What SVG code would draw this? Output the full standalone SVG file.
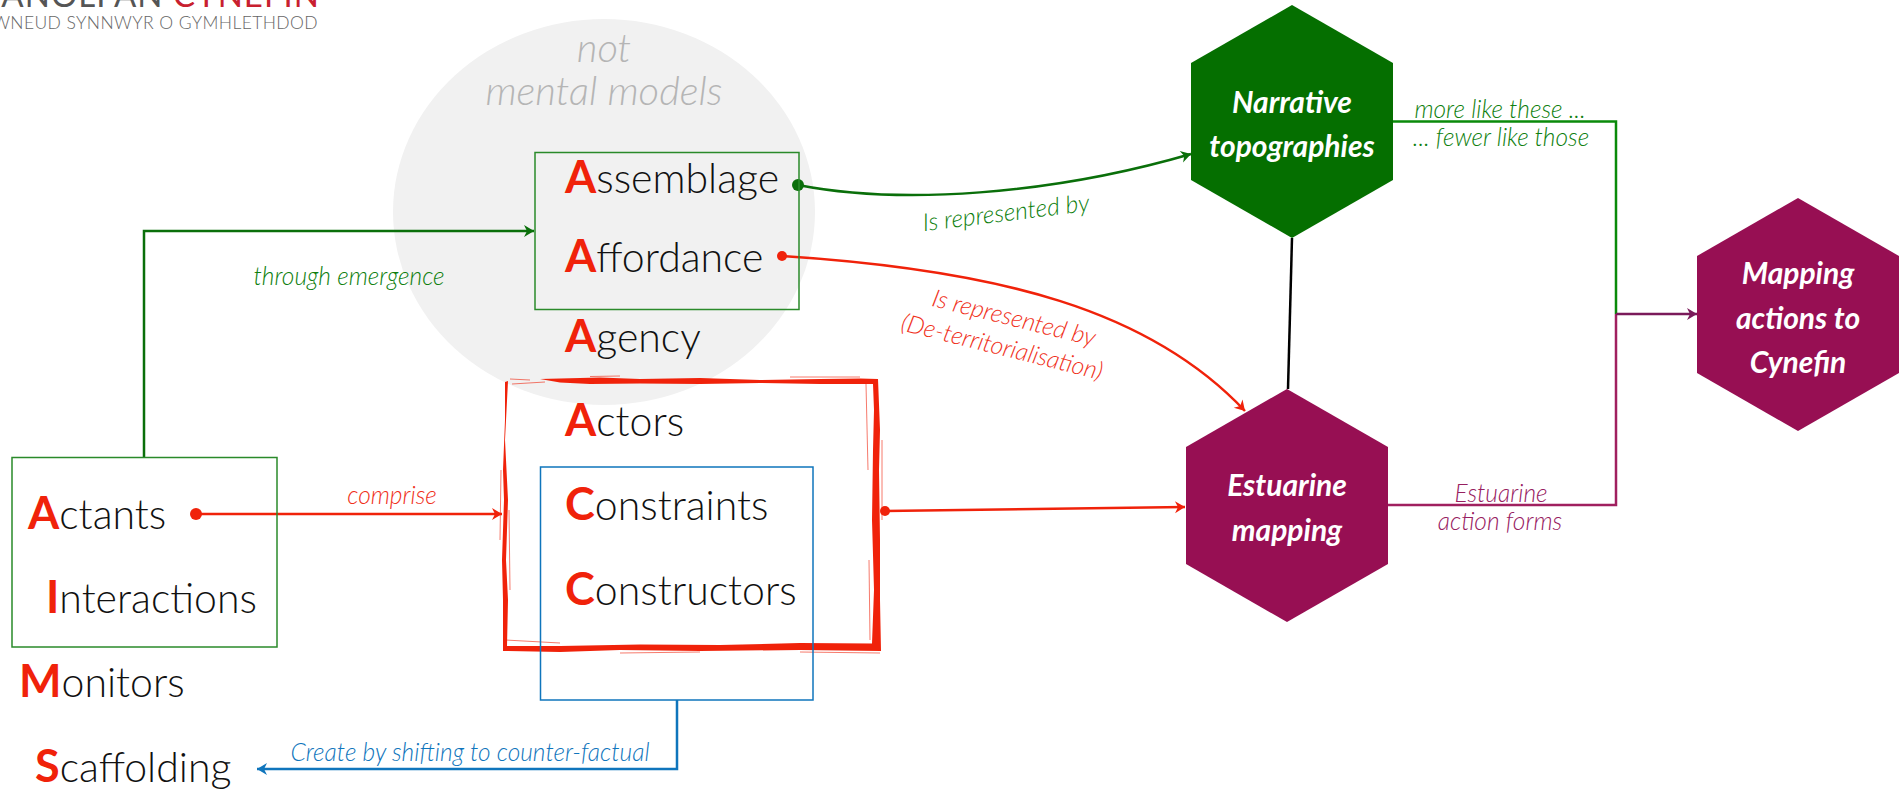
<svg xmlns="http://www.w3.org/2000/svg" width="1904" height="790" viewBox="0 0 1904 790">
<style>
text{font-family:Lato,"Liberation Sans",sans-serif}
.big{font-size:41px;font-weight:300;fill:#111}
.big tspan{font-weight:700;fill:#f0220a;font-size:45px}
.lab{font-size:24.500px;font-style:italic;font-weight:300;text-anchor:middle}
.hex{font-size:30px;font-style:italic;font-weight:700;fill:#fff;text-anchor:middle}
.g{fill:#0f7f0f}.r{fill:#f0301a}.b{fill:#0f75bc}.p{fill:#97205f}
.box{fill:none;stroke-width:1.5}
.c{fill:none;stroke-width:2.5}
</style>
<defs>
<marker id="ag" markerUnits="userSpaceOnUse" markerWidth="12" markerHeight="14" refX="11" refY="7" orient="auto"><path d="M1 1L11 7L1 13L4 7Z" fill="#0a6f0a"/></marker>
<marker id="ar" markerUnits="userSpaceOnUse" markerWidth="12" markerHeight="14" refX="11" refY="7" orient="auto"><path d="M1 1L11 7L1 13L4 7Z" fill="#f0220a"/></marker>
<marker id="ab" markerUnits="userSpaceOnUse" markerWidth="12" markerHeight="14" refX="11" refY="7" orient="auto"><path d="M1 1L11 7L1 13L4 7Z" fill="#0f75bc"/></marker>
<marker id="ap" markerUnits="userSpaceOnUse" markerWidth="12" markerHeight="14" refX="11" refY="7" orient="auto"><path d="M1 1L11 7L1 13L4 7Z" fill="#7a1a5a"/></marker>
</defs>
<g id="logo">
<text x="320" y="7" text-anchor="end" font-size="33" letter-spacing="1" font-weight="400" fill="#555">ANOLFAN <tspan fill="#c8202f">CYNEFIN</tspan></text>
<text x="318" y="29" text-anchor="end" font-size="17.500" font-weight="300" letter-spacing="0.4" fill="#666">WNEUD SYNNWYR O GYMHLETHDOD</text>
</g>
<g id="not-mental-models">
<ellipse cx="604" cy="212" rx="211" ry="193" fill="#f1f1f1"/>
<text x="604" y="62" text-anchor="middle" font-size="40" font-style="italic" font-weight="300" fill="#b5b5b5">not</text>
<text x="604" y="105" text-anchor="middle" font-size="40" font-style="italic" font-weight="300" fill="#b5b5b5">mental models</text>
</g>
<g id="connectors">
<path class="c" stroke="#0a6f0a" d="M144 457V231H534" marker-end="url(#ag)"/>
<path class="c" stroke="#0a6f0a" d="M798 185C900 205 1050 195 1191 154" marker-end="url(#ag)"/>
<path class="c" stroke="#f0220a" d="M782 256C1000 270 1150 310 1245 411" marker-end="url(#ar)"/>
<path class="c" stroke="#f0220a" d="M196 514H502" marker-end="url(#ar)"/>
<path class="c" stroke="#f0220a" d="M885 511L1185 507" marker-end="url(#ar)"/>
<path class="c" stroke="#0f75bc" d="M677 700V769H257" marker-end="url(#ab)"/>
<path class="c" stroke="#000" d="M1292 238L1288 389"/>
<path class="c" stroke="#0a8a0a" d="M1393 121.500H1616V314"/>
<path class="c" stroke="#a0205f" d="M1388 505H1616V314"/>
<path class="c" stroke="#7a1a5a" d="M1616 314H1697" marker-end="url(#ap)"/>
<circle cx="798" cy="185" r="6" fill="#0a6f0a"/>
<circle cx="782" cy="256" r="5" fill="#f0220a"/>
<circle cx="196" cy="514" r="6" fill="#f0220a"/>
<circle cx="885" cy="511" r="5" fill="#f0220a"/>
</g>
<g id="assemblage-box">
<rect class="box" x="535" y="152.500" width="264" height="157" stroke="#2a8a2a"/>
<text class="big" x="565" y="193"><tspan>A</tspan>ssemblage</text>
<text class="big" x="565" y="272"><tspan>A</tspan>ffordance</text>
</g>
<g id="agency"><text class="big" x="565" y="352"><tspan>A</tspan>gency</text></g>
<g id="red-box">
<g fill="#f0220a">
<path d="M540 379L600 377.500L640 379L700 378L760 380L820 379L860 378.500L878 379L880 430L879 470L880 540L880 600L881 651L800 650L700 651L620 650L560 652L503 651L503 600L502 560L504 500L503 470L505 420L505 382L508 381L505 440L508 500L506 560L508 600L507 646L560 646L640 644.500L720 645L800 643L872 643.500L874 590L872 520L873 450L874 410L873 384L820 384L760 383L700 384L640 383.500L590 384L560 382.500Z"/>
</g>
<g fill="none" stroke="#f0220a" stroke-width="1" opacity=".6">
<path d="M510 379L530 380M512 384L545 382M590 376.500L620 376M790 377L860 377M866 384L868 470M869 560L870 640M882 440L882 520M505 640L560 643M620 653L700 652M800 652L880 653M501 470L500 540M509 510L510 590"/>
</g>
<text class="big" x="565" y="436"><tspan>A</tspan>ctors</text>
</g>
<g id="constraints-box">
<rect class="box" x="540.500" y="467" width="272.500" height="233" stroke="#0f75bc"/>
<text class="big" x="565" y="520"><tspan>C</tspan>onstraints</text>
<text class="big" x="565" y="605"><tspan>C</tspan>onstructors</text>
</g>
<g id="actants-box">
<rect class="box" x="12" y="457.500" width="265" height="189.500" stroke="#2a8a2a"/>
<text class="big" x="28" y="529"><tspan>A</tspan>ctants</text>
<text class="big" x="46" y="613"><tspan>I</tspan>nteractions</text>
</g>
<g id="monitors"><text class="big" x="19" y="697"><tspan>M</tspan>onitors</text></g>
<g id="scaffolding"><text class="big" x="35" y="782"><tspan>S</tspan>caffolding</text></g>
<g id="narrative">
<polygon points="1292,5 1393,63 1393,180 1292,238 1191,180 1191,63" fill="#056f00"/>
<text class="hex" x="1292" y="113">Narrative</text>
<text class="hex" x="1292" y="157">topographies</text>
</g>
<g id="estuarine">
<polygon points="1287,389 1388,447 1388,564 1287,622 1186,564 1186,447" fill="#970f53"/>
<text class="hex" x="1287" y="496">Estuarine</text>
<text class="hex" x="1287" y="541">mapping</text>
</g>
<g id="mapping">
<polygon points="1798,198 1899,256 1899,373 1798,431 1697,373 1697,256" fill="#970f53"/>
<text class="hex" x="1798" y="284">Mapping</text>
<text class="hex" x="1798" y="329">actions to</text>
<text class="hex" x="1798" y="373">Cynefin</text>
</g>
<g id="labels">
<text class="lab g" x="349" y="285">through emergence</text>
<text class="lab r" x="392" y="504">comprise</text>
<text class="lab b" x="470" y="761">Create by shifting to counter-factual</text>
<text class="lab g" x="1007" y="221" transform="rotate(-7 1007 221)">Is represented by</text>
<text class="lab r" x="1012" y="326" transform="rotate(14 1012 326)">Is represented by</text>
<text class="lab r" x="1000" y="355" transform="rotate(14 1000 355)">(De-territorialisation)</text>
<text class="lab g" x="1500" y="118">more like these ...</text>
<text class="lab g" x="1501" y="146">... fewer like those</text>
<text class="lab p" x="1501" y="502">Estuarine</text>
<text class="lab p" x="1500" y="530">action forms</text>
</g>
</svg>
